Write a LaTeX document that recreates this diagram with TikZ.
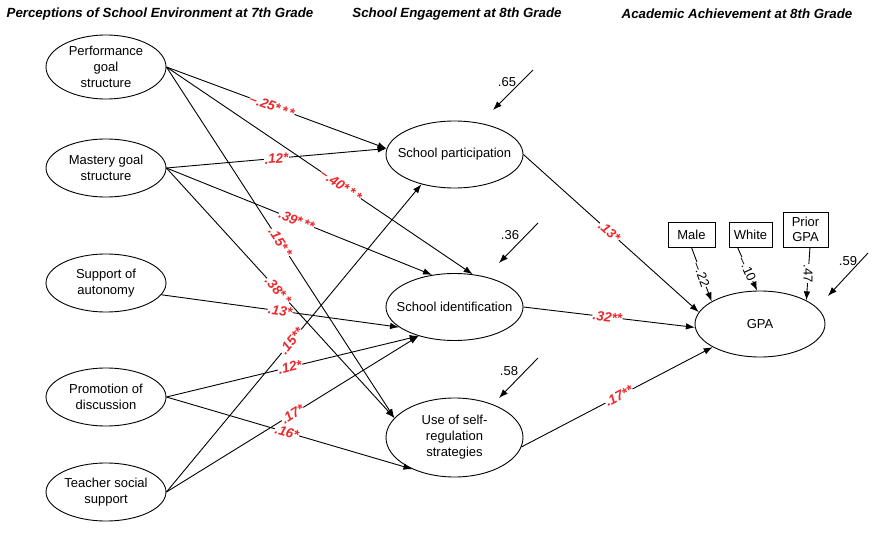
\documentclass[tikz,border=0pt]{standalone}
\usepackage{fontspec}
\setmainfont{Liberation Sans}
\usetikzlibrary{arrows.meta, positioning, shapes.geometric}
\definecolor{coefred}{RGB}{236,40,44}

\begin{document}
\begin{tikzpicture}[x=1pt, y=-1pt,
    latent/.style={draw, ellipse, line width=0.9pt, minimum width=120pt, minimum height=58pt,
        inner xsep=-4pt, inner ysep=0pt, align=center, font=\fontsize{13}{16}\selectfont},
    mid/.style={latent, minimum width=137pt, minimum height=67pt, inner xsep=-12pt},
    obs/.style={draw, rectangle, line width=0.9pt, inner sep=0pt, align=center, font=\fontsize{13}{15}\selectfont},
    link/.style={-{Latex[length=9pt,width=6.5pt]}, line width=0.9pt},
    coef/.style={sloped, fill=white, inner sep=0.5pt, text=coefred, font=\fontsize{13.5}{13.5}\selectfont\bfseries\itshape},
    load/.style={fill=white, inner sep=0.5pt, font=\fontsize{13}{13}\selectfont},
    resid/.style={font=\fontsize{13}{13}\selectfont},
    head/.style={font=\fontsize{13.3}{14}\selectfont\bfseries\itshape}]
    \useasboundingbox (0,0) rectangle (873,559);

    % column headings
    \node[head] (h1) at (160,14) {Perceptions of School Environment at 7th Grade};
    \node[head] (h2) at (457,14) {School Engagement at 8th Grade};
    \node[head] (h3) at (737,14) {Academic Achievement at 8th Grade};

    % 7th grade perceptions
    \node[latent, minimum height=64pt] (perf) at (106,67) {Performance\\goal\\structure};
    \node[latent] (mast) at (106,168) {Mastery goal\\structure};
    \node[latent] (supp) at (106,283) {Support of\\autonomy};
    \node[latent] (prom) at (106,397) {Promotion of\\discussion};
    \node[latent] (teach) at (106,492) {Teacher social\\support};

    % 8th grade engagement
    \node[mid] (part) at (454.5,154.5) {School participation};
    \node[mid] (ident) at (454.5,307) {School identification};
    \node[mid, minimum height=79pt] (selfreg) at (454.5,437.5) {Use of self-\\regulation\\strategies};

    % achievement and controls
    \node[latent, minimum width=130pt, minimum height=66pt] (gpa) at (760,324) {GPA};
    \node[obs, minimum width=47pt, minimum height=25pt] (male) at (691.5,234.5) {Male};
    \node[obs, minimum width=43pt, minimum height=25pt] (white) at (750.5,234.5) {White};
    \node[obs, minimum width=45pt, minimum height=35pt] (prior) at (805.5,229.5) {Prior\\GPA};

    % paths to engagement
    \draw[link] (perf.east) -- node[coef, pos=0.48] {--.25*\,*\,*} (part.175);
    \draw[link] (perf.east) -- node[coef, pos=0.57] {--.40*\,*\,*} (ident.61);
    \draw[link] (perf.east) -- node[coef, pos=0.5] {.15*\,*} (selfreg.162);
    \draw[link] (mast.east) -- node[coef, pos=0.5] {.12*} (part.175);
    \draw[link] (mast.east) -- node[coef, pos=0.49] {.39*\,**} (ident.125);
    \draw[link] (mast.east) -- node[coef, pos=0.49] {.38*\,*} (selfreg.162);
    \draw[link] (supp.-12) -- node[coef, pos=0.5] {.13*} (ident.200);
    \draw[link] (prom.east) -- node[coef, pos=0.49] {.12*} (ident.219);
    \draw[link] (prom.east) -- node[coef, pos=0.49] {.16*} (selfreg.217);
    \draw[link] (teach.east) -- node[coef, pos=0.49] {.15**} (part.222);
    \draw[link] (teach.east) -- node[coef, pos=0.5] {.17*} (ident.219);

    % paths to GPA
    \draw[link] (part.east) -- node[coef, pos=0.49] {.13*} (gpa.169);
    \draw[link] (ident.east) -- node[coef, pos=0.49] {.32**} (gpa.183);
    \draw[link] (selfreg.-8) -- node[coef, pos=0.51] {.17**} (gpa.206);
    \draw[link] (male.south) -- node[load, sloped] {--.22} (gpa.155);
    \draw[link] (white.225) -- node[load, sloped] {--.10} (gpa.95);
    \draw[link] (prior.-76) -- node[load, rotate=-90] {.47} (gpa.27);

    % residuals
    \coordinate (e1) at (533,70);
    \coordinate (e2) at (538,223);
    \coordinate (e3) at (538,358);
    \coordinate (e4) at (868,253);
    \draw[link] (e1) -- ++(-40,40);
    \draw[link] (e2) -- ++(-39,40);
    \draw[link] (e3) -- ++(-39,40);
    \draw[link] (e4) -- ++(-40,43);
    \node[resid] (r1) at (507,82) {.65};
    \node[resid] (r2) at (510,235) {.36};
    \node[resid] (r3) at (509,371) {.58};
    \node[resid] (r4) at (848,261) {.59};
\end{tikzpicture}
\end{document}
